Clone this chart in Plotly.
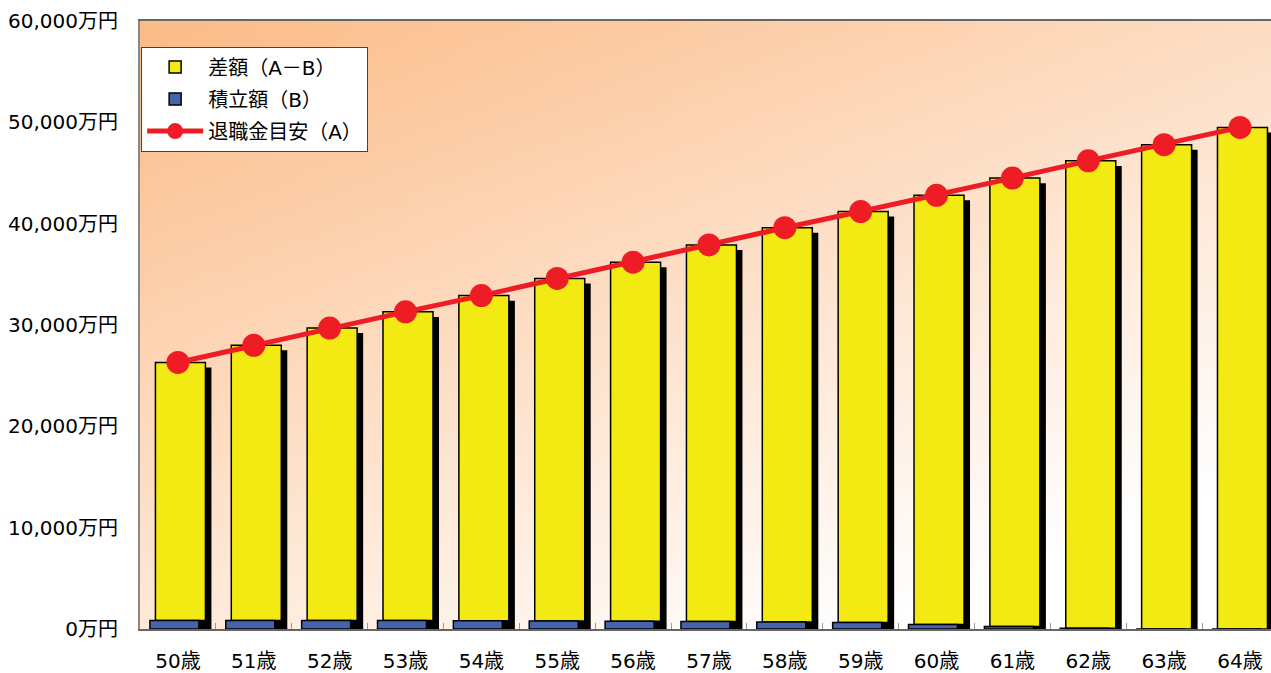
import base64
import struct
import zlib

import numpy as np
import plotly.graph_objects as go

# ---- data ----
ages = ["50歳", "51歳", "52歳", "53歳", "54歳", "55歳", "56歳", "57歳",
        "58歳", "59歳", "60歳", "61歳", "62歳", "63歳", "64歳"]
target_A = [26300, 28000, 29700, 31300, 32900, 34600, 36200, 37900,
            39600, 41200, 42800, 44500, 46200, 47800, 49500]
saved_B = [850, 850, 840, 830, 810, 790, 770, 740, 700, 640, 450, 250, 80, 0, 0]
y_ticks = [0, 10000, 20000, 30000, 40000, 50000, 60000]
y_ticktext = ["0万円", "10,000万円", "20,000万円", "30,000万円",
              "40,000万円", "50,000万円", "60,000万円"]

diff_AB = [a - b for a, b in zip(target_A, saved_B)]
xs = list(range(len(ages)))
shadow_drop = 500  # visual shadow offset (y units)
shadow_vals = [a - shadow_drop for a in target_A]


# ---- gradient background as small png ----
def gradient_png(w, h):
    u = np.linspace(0, 1, w)[None, :]
    v = np.linspace(0, 1, h)[:, None]
    t = np.clip((u * 0.55 + v * 0.75) / 1.1, 0, 1)
    c0 = np.array([252, 188, 136], dtype=float)
    c1 = np.array([255, 255, 255], dtype=float)
    img = c0[None, None, :] * (1 - t[..., None]) + c1[None, None, :] * t[..., None]
    img = img.astype(np.uint8)
    raw = b"".join(b"\x00" + img[r].tobytes() for r in range(h))

    def chunk(tag, data):
        c = struct.pack(">I", len(data)) + tag + data
        return c + struct.pack(">I", zlib.crc32(tag + data) & 0xFFFFFFFF)

    png = b"\x89PNG\r\n\x1a\n"
    png += chunk(b"IHDR", struct.pack(">IIBBBBB", w, h, 8, 2, 0, 0, 0))
    png += chunk(b"IDAT", zlib.compress(raw, 9))
    png += chunk(b"IEND", b"")
    return "data:image/png;base64," + base64.b64encode(png).decode()


FONT = "DejaVu Sans, Noto Sans CJK JP"
px_per_cat = 75.86
yellow_w = 50 / px_per_cat
yellow_off = -22.5 / px_per_cat
blue_w = 49 / px_per_cat
blue_off = -28 / px_per_cat
shadow_off = yellow_off + 6 / px_per_cat

fig = go.Figure()

# shadow behind yellow bars
fig.add_trace(go.Bar(
    x=xs, y=shadow_vals, base=0, width=yellow_w, offset=shadow_off,
    marker=dict(color="black", line=dict(width=0)),
    showlegend=False, hoverinfo="skip"))

# yellow: A - B, stacked above B
fig.add_trace(go.Bar(
    x=xs, y=diff_AB, base=saved_B, width=yellow_w, offset=yellow_off,
    name="差額（A－B）", legendgroup="g1", legendrank=1,
    marker=dict(color="#F2EA12", line=dict(color="black", width=1.5))))

# blue: B
fig.add_trace(go.Bar(
    x=xs, y=saved_B, base=0, width=blue_w, offset=blue_off,
    name="積立額（B）", legendgroup="g2", legendrank=2,
    marker=dict(color="#4664AC", line=dict(color="black", width=1.5))))

# red line: A
fig.add_trace(go.Scatter(
    x=xs, y=target_A, mode="lines+markers", name="退職金目安（A）",
    legendgroup="g3", legendrank=3,
    line=dict(color="#EE1D25", width=5),
    marker=dict(color="#EE1D25", size=23)))

fig.update_layout(
    width=1271, height=673,
    margin=dict(l=140, r=0, t=21, b=42),
    paper_bgcolor="white",
    plot_bgcolor="rgba(0,0,0,0)",
    barmode="overlay",
    font=dict(family=FONT, size=20, color="black"),
    showlegend=True,
    legend=dict(
        x=0.001, y=0.958, xanchor="left", yanchor="top",
        bgcolor="white", bordercolor="#444444", borderwidth=1,
        font=dict(family=FONT, size=20, color="black"),
        tracegroupgap=3, itemwidth=56, traceorder="grouped"),
    images=[dict(source=gradient_png(128, 70), xref="paper", yref="paper",
                 x=0, y=1, sizex=1, sizey=1, sizing="stretch",
                 xanchor="left", yanchor="top", layer="below")],
)

fig.update_xaxes(
    range=[-0.5, -0.5 + 1131 / px_per_cat],
    tickmode="array", tickvals=xs, ticktext=ages,
    ticks="", ticklabelstandoff=13,
    showgrid=False, zeroline=False,
    showline=True, linecolor="#666666", linewidth=2, mirror=True,
    minor=dict(tickmode="array", tickvals=[i + 0.5 for i in xs],
               ticks="inside", ticklen=6, tickcolor="#999999", tickwidth=1),
    tickfont=dict(family=FONT, size=20, color="black"),
)
fig.update_yaxes(
    range=[0, 60000],
    tickmode="array", tickvals=y_ticks, ticktext=y_ticktext,
    ticks="", ticklabelstandoff=16,
    showgrid=False, zeroline=False,
    showline=True, linecolor="#888888", linewidth=2,
    tickfont=dict(family=FONT, size=20, color="black"),
)

fig.write_html("out.html",
               config={"displayModeBar": False},
               post_script="document.body.style.margin='0';document.body.style.overflow='hidden';")
